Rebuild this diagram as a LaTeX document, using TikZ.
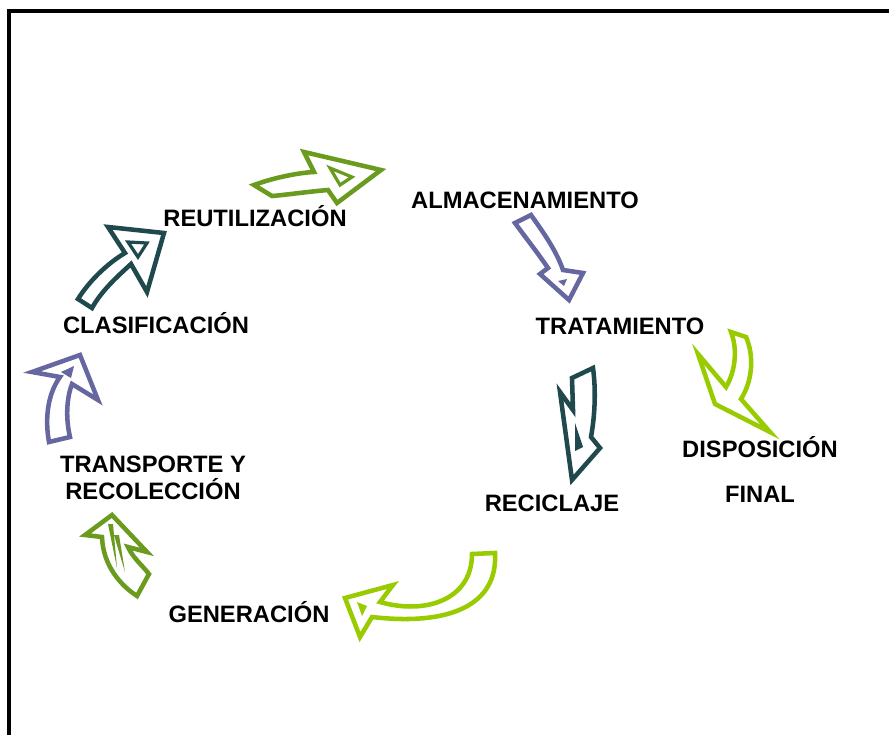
\documentclass[tikz,border=0pt]{standalone}
\usepackage{fontspec}
\setmainfont{Liberation Sans}
\definecolor{olivo}{RGB}{107,155,30}
\definecolor{lila}{RGB}{102,102,160}
\definecolor{limon}{RGB}{153,204,0}
\definecolor{petroleo}{RGB}{31,73,77}

\begin{document}
\begin{tikzpicture}[x=0.75pt,y=-0.75pt,
   flecha/.style={draw=#1,line width=3.4pt,line join=miter,fill=white},
   brillo/.style={draw=#1,line width=2.4pt,line join=miter,fill=white},
   etapa/.style={font=\bfseries\fontsize{17.8}{21}\selectfont,inner sep=0pt,anchor=base}]
   \useasboundingbox (0,0) rectangle (889,735);
   \draw[line width=3pt] (9,735) -- (9,11) -- (889,11);

   % etapas del ciclo
   \node[etapa] (reutilizacion) at (255,226) {REUTILIZACIÓN};
   \node[etapa] (almacenamiento) at (525,208) {ALMACENAMIENTO};
   \node[etapa] (tratamiento) at (620,334) {TRATAMIENTO};
   \node[etapa,align=center] (disposicion) at (760,502) {DISPOSICIÓN\\[12.75pt]FINAL};
   \node[etapa] (reciclaje) at (552,511) {RECICLAJE};
   \node[etapa] (generacion) at (249,622) {GENERACIÓN};
   \node[etapa,align=center] (transporte) at (153,499) {TRANSPORTE Y\\[-0.75pt]RECOLECCIÓN};
   \node[etapa] (clasificacion) at (156,333) {CLASIFICACIÓN};

   % flechas
   \draw[flecha=olivo] (254,185) .. controls (270,179) and (295,173) .. (314,172)
   -- (304,152) -- (381,170) -- (337,203) -- (328,190)
   .. controls (305,192) and (285,195) .. (272,196) -- cycle;
   \draw[brillo=olivo] (330,168) -- (352,177) -- (340,185) -- cycle;

   \draw[flecha=lila] (515,223) -- (531,215) .. controls (543,232) and (556,250) .. (563,270)
   -- (583,273) -- (569,300) -- (540,274) -- (548,268)
   .. controls (537,252) and (526,238) .. (515,223) -- cycle;
   \fill[lila] (558,281) -- (567,279) -- (564,286) -- cycle;

   \draw[flecha=limon] (731,332) -- (746,337) .. controls (754,355) and (753,380) .. (741,399)
   -- (770,432) -- (715,404) -- (698,354) -- (726,387)
   .. controls (735,372) and (738,350) .. (731,332) -- cycle;

   \draw[flecha=petroleo] (572,378) -- (593,368) .. controls (596,390) and (595,415) .. (591,437)
   -- (600,448) -- (572,480) -- (560,392) -- (573,410) -- cycle;
   \fill[petroleo] (575,423) -- (583,447) -- (575,451) -- cycle;

   \draw[flecha=limon] (472,554) -- (495,553) .. controls (498,605) and (450,626) .. (372,617)
   -- (360,637) -- (345,598) -- (393,585) -- (380,602)
   .. controls (425,615) and (472,600) .. (472,554) -- cycle;
   \fill[limon] (357,602) -- (367,606) -- (362,616) -- cycle;

   \draw[flecha=olivo] (137,596) .. controls (120,585) and (103,565) .. (102,537)
   -- (85,535) -- (112,515) -- (147,552) -- (128,547)
   .. controls (133,558) and (142,565) .. (149,574) -- cycle;
   \fill[olivo] (108,524) -- (113,524) -- (117,568) -- cycle;
   \fill[olivo] (114,535) -- (119,535) -- (125,572) -- cycle;

   \draw[flecha=lila] (49,442) .. controls (45,420) and (47,395) .. (60,377)
   -- (32,372) -- (80,355) -- (98,400) -- (72,384)
   .. controls (66,400) and (66,420) .. (70,437) -- cycle;
   \fill[lila] (61,372) -- (74,366) -- (71,378) -- cycle;

   \draw[flecha=petroleo] (78,299) .. controls (88,283) and (105,265) .. (125,253)
   -- (108,227) -- (164,233) -- (147,292) -- (131,264)
   .. controls (118,276) and (102,290) .. (92,308) -- cycle;
   \draw[brillo=petroleo] (128,242) -- (147,243) -- (138,257) -- cycle;
 \end{tikzpicture}
\end{document}
